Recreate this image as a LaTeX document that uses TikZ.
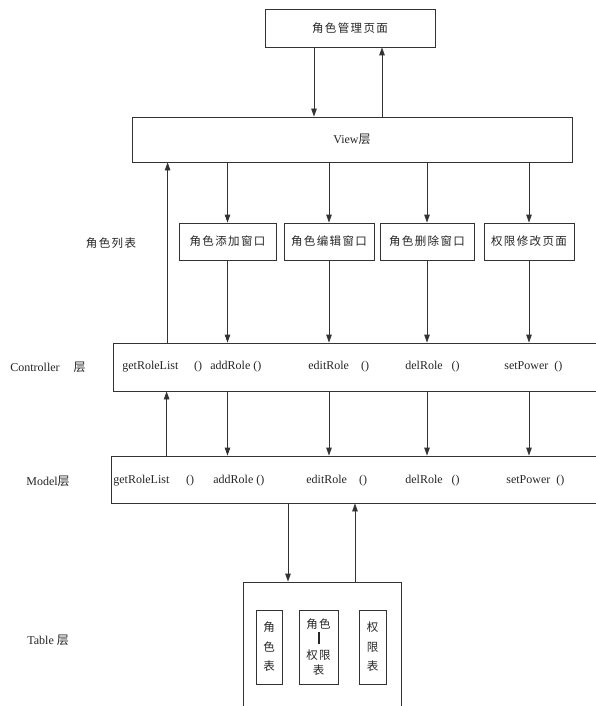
\documentclass[tikz,border=0pt]{standalone}
\usepackage{fontspec}
\setmainfont{Liberation Serif}
\newfontfamily\cjk[LetterSpace=12]{Noto Sans CJK SC}
\usetikzlibrary{arrows.meta}

\begin{document}
\begin{tikzpicture}[x=1pt, y=-1pt, line width=0.8pt,
  every node/.style={font=\fontsize{12}{14}\selectfont, text=black!85, inner sep=0pt},
  box/.style={draw=black!80, rectangle},
  zh/.style={font=\cjk\fontsize{11.5}{13}\selectfont},
  arr/.style={draw=black!80, -{Triangle[length=8pt,width=5.5pt]}}]

\clip (0,0) rectangle (596,706);
\fill[white] (0,0) rectangle (596,706);

% ============================
% Page and View layer
% ============================
\node[box, zh, minimum width=170pt, minimum height=38pt] (page) at (350,28) {角色管理页面};
\node[box, minimum width=440pt, minimum height=45pt] (view) at (352,139.5) {View{\cjk 层}};

% ============================
% Windows
% ============================
\node[zh] (listLbl) at (111,243) {角色列表};
\foreach \name/\cx/\w/\txt in {add/227.5/97/角色添加窗口, edit/329/90/角色编辑窗口,
    del/427/94/角色删除窗口, power/529/90/权限修改页面}{
  \node[box, zh, minimum width=\w pt, minimum height=37pt] (\name) at (\cx,241.5) {\txt};
}

% ============================
% Controller layer
% ============================
\node[anchor=west] (ctrlLbl) at (10,367) {Controller\hspace{14pt}{\cjk 层}};
\node[box, minimum width=527pt, minimum height=48pt] (ctrl) at (376.5,367) {};
\node[anchor=west] (cGet) at (122,367) {getRoleList};
\node (cGetP) at (198,367) {()};
\node[anchor=west] (cAdd) at (210,367) {addRole ()};
\node[anchor=west] (cEdit) at (308,367) {editRole\hspace{12pt}()};
\node[anchor=west] (cDel) at (405,367) {delRole\hspace{9pt}()};
\node[anchor=west] (cSet) at (504,367) {setPower\hspace{6pt}()};

% ============================
% Model layer
% ============================
\node[anchor=west] (modelLbl) at (26,481) {Model{\cjk 层}};
\node[box, minimum width=529pt, minimum height=47pt] (model) at (375.5,479.5) {};
\node[anchor=west] (mGet) at (113,481) {getRoleList};
\node (mGetP) at (190,481) {()};
\node[anchor=west] (mAdd) at (213,481) {addRole ()};
\node[anchor=west] (mEdit) at (306,481) {editRole\hspace{12pt}()};
\node[anchor=west] (mDel) at (405,481) {delRole\hspace{9pt}()};
\node[anchor=west] (mSet) at (506,481) {setPower\hspace{6pt}()};

% ============================
% Table layer
% ============================
\node[anchor=west] (tableLbl) at (27,640) {Table {\cjk 层}};
\node[box, minimum width=158pt, minimum height=138pt] (tbl) at (322,651) {};
\node[box, align=center, font=\cjk\fontsize{11.5}{19.5}\selectfont,
  minimum width=26pt, minimum height=74pt] (tRole) at (269,647) {角\\色\\表};
\node[box, align=center, font=\cjk\fontsize{11.5}{15.5}\selectfont,
  minimum width=39pt, minimum height=74pt] (tRolePow) at (318.5,647) {角色\\\rule{2pt}{12pt}\\权限\\表};
\node[box, align=center, font=\cjk\fontsize{11.5}{19.5}\selectfont,
  minimum width=27pt, minimum height=74pt] (tPow) at (372.5,647) {权\\限\\表};

% ============================
% Arrows
% ============================
\draw[arr] ([xshift=-36pt]page.south) -- ([xshift=-36pt]page.south |- view.north);
\draw[arr] ([xshift=32pt]page.south |- view.north) -- ([xshift=32pt]page.south);

\foreach \w in {add,edit,del,power}{
  \draw[arr] (\w.north |- view.south) -- (\w.north);
  \draw[arr] (\w.south) -- (\w.south |- ctrl.north);
  \draw[arr] (\w.south |- ctrl.south) -- (\w.south |- model.north);
}

\draw[arr] ([xshift=55pt]ctrl.north west) -- ([xshift=55pt]ctrl.north west |- view.south);
\draw[arr] ([xshift=56pt]model.north west) -- ([xshift=56pt]model.north west |- ctrl.south);

\draw[arr] ([xshift=-34pt]tbl.north |- model.south) -- ([xshift=-34pt]tbl.north);
\draw[arr] ([xshift=33pt]tbl.north) -- ([xshift=33pt]tbl.north |- model.south);

\end{tikzpicture}
\end{document}
